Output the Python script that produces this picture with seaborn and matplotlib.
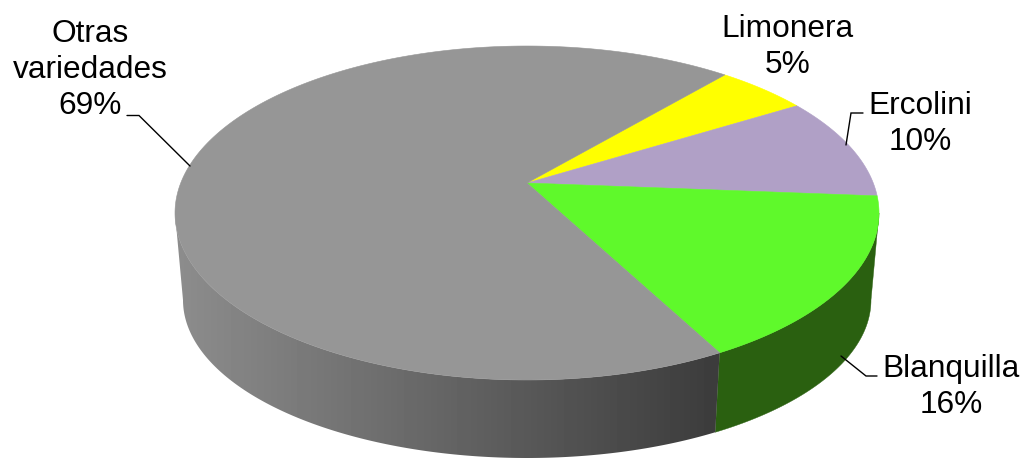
import numpy as np
import matplotlib
matplotlib.use("Agg")
import matplotlib.pyplot as plt
from matplotlib.patches import Polygon
import seaborn as sns

names = ["Limonera", "Ercolini", "Blanquilla", "Otras\nvariedades"]
shares = [5, 10, 16, 69]
top_colors = ["#FFFF00", "#B0A0C6", "#5FF92B", "#969696"]
side_colors = ["#808000", "#584F63", "#2A6010", None]

sns.set_theme(style="white")
plt.rcParams["font.family"] = ["Liberation Sans", "DejaVu Sans"]
palette = sns.color_palette(top_colors)

fig = plt.figure(figsize=(10.22, 4.58), dpi=100)
ax = fig.add_axes([0, 0, 1, 1])
ax.axis("off")

CX, CY, RX, RY = 527, 213, 352, 167     # top face ellipse
BCY, BRX, BRY = 300, 344, 158           # bottom rim ellipse
TILT = 30 / 167                         # perspective shift of the pie centre
START = 49.5


def project(theta_deg):
    """Circle point -> unit ellipse coordinates, keeping the perspective shift."""
    t = np.radians(theta_deg)
    x, y = np.cos(t), np.sin(t)
    w = 1 + TILT * y
    return x * np.sqrt(1 - TILT ** 2) / w, (y + TILT) / w


def top_xy(theta):
    u, v = project(theta)
    return CX + RX * u, CY - RY * v


def bottom_xy(theta):
    u, v = project(theta)
    return CX + BRX * u, BCY - BRY * v


edges = START - np.concatenate([[0], np.cumsum(shares)]) * 3.6

# side wall: only the part between the silhouette's widest points is visible
right_limit = -np.degrees(np.arcsin(TILT))
left_limit = -180 - right_limit
for i, side in enumerate(side_colors):
    hi, lo = min(edges[i], right_limit), max(edges[i + 1], left_limit)
    if hi <= lo:
        continue
    th = np.linspace(hi, lo, 400)
    xt, yt = top_xy(th)
    xb, yb = bottom_xy(th)
    outline = np.column_stack([np.r_[xt, xb[::-1]], np.r_[yt, yb[::-1]]])
    if side is None:
        shade = np.interp(np.arange(170, 730), [180, 715], [0x8C, 0x3C]).reshape(1, -1)
        img = ax.imshow(shade, cmap="gray", vmin=0, vmax=255, aspect="auto",
                        extent=(170, 730, 458, 0), interpolation="nearest", zorder=1)
        patch = Polygon(outline, closed=True, transform=ax.transData, facecolor="none", edgecolor="none")
        ax.add_patch(patch)
        img.set_clip_path(patch)
    else:
        ax.fill(outline[:, 0], outline[:, 1], facecolor=side, edgecolor=side, linewidth=0.3, zorder=1)

# top face
vx, vy = CX, CY - RY * TILT
for i, color in enumerate(palette):
    th = np.linspace(edges[i], edges[i + 1], 300)
    x, y = top_xy(th)
    ax.fill(np.r_[vx, x], np.r_[vy, y], facecolor=color, edgecolor=color, linewidth=0.4, zorder=2)

# leader lines
for xs, ys in [([127, 139, 190], [115.5, 115.5, 166]),
               ([863, 851, 846], [113, 113, 145]),
               ([877, 866, 841], [376, 376, 356])]:
    ax.plot(xs, ys, color="black", lw=1.0, solid_joinstyle="miter", zorder=3)

# labels
positions = [(787.5, 73), (920.5, 150), (951, 413), (90, 114)]
for name, share, (x, y) in zip(names, shares, positions):
    ax.text(x, y, f"{name}\n{share}%", ha="center", va="baseline", multialignment="center",
            fontsize=22.8, color="black", linespacing=1.26, zorder=4)

ax.set_xlim(0, 1022)
ax.set_ylim(458, 0)
fig.savefig("out.png", dpi=100)
